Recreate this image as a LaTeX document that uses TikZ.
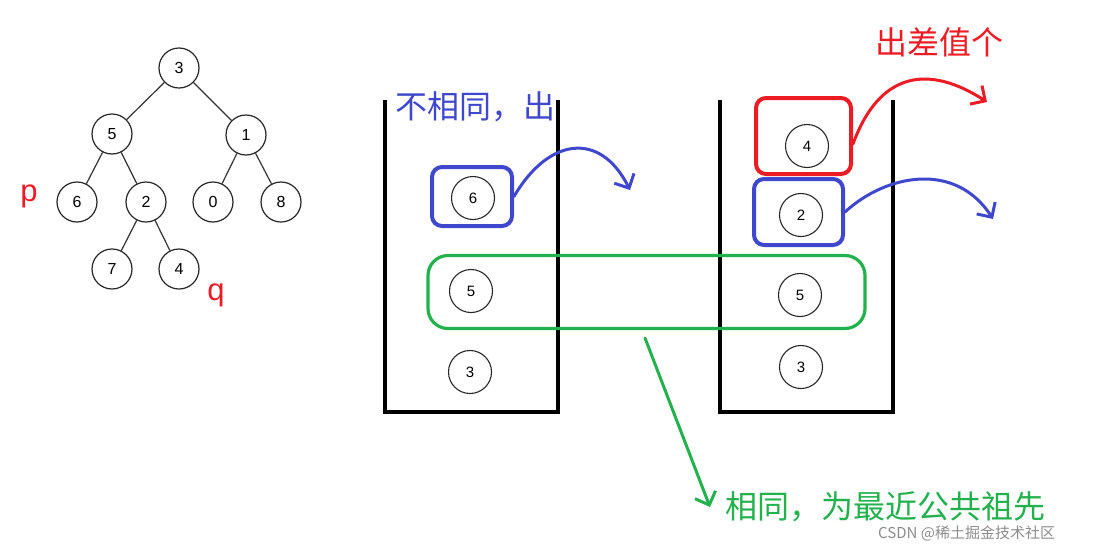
\documentclass[tikz,border=0pt]{standalone}
\usepackage{fontspec}
\setmainfont{Liberation Sans}
\newfontfamily\cjk{Noto Sans CJK SC}
\usetikzlibrary{arrows.meta}
\definecolor{pblue}{RGB}{63,72,204}
\definecolor{pred}{RGB}{237,28,36}
\definecolor{pgreen}{RGB}{34,177,76}
\tikzset{
  tnode/.style={circle,draw=black!85,line width=1.2pt,minimum size=40pt,inner sep=0pt,font=\fontsize{16}{16}\selectfont},
  snode/.style={circle,draw=black!85,line width=1.1pt,minimum size=43pt,inner sep=0pt,font=\fontsize{15}{15}\selectfont},
  tedge/.style={draw=black!80,line width=1.2pt},
  wall/.style={draw=black,line width=4pt,line join=miter},
  boxb/.style={draw=pblue,line width=4pt,rounded corners=10pt,inner sep=0pt},
  boxr/.style={draw=pred,line width=4pt,rounded corners=10pt,inner sep=0pt},
  boxg/.style={draw=pgreen,line width=3.2pt,rounded corners=20pt,inner sep=0pt},
  arr/.style={line width=3pt,line cap=round,-{Straight Barb[length=11pt,width=22pt,line width=3pt]}},
  lab/.style={inner sep=0pt,anchor=west},
}
\begin{document}
\begin{tikzpicture}[x=1pt,y=-1pt]
\useasboundingbox (0,0) rectangle (1103,544);
% tree
\node[tnode] (t3) at (179,68) {3};
\node[tnode] (t5) at (112,134) {5};
\node[tnode] (t1) at (246,135) {1};
\node[tnode] (t6) at (77,202) {6};
\node[tnode] (t2) at (146,202) {2};
\node[tnode] (t0) at (213,202) {0};
\node[tnode] (t8) at (281,202) {8};
\node[tnode] (t7) at (112,269) {7};
\node[tnode] (t4) at (179,269) {4};
\draw[tedge] (t3)--(t5) (t3)--(t1) (t5)--(t6) (t5)--(t2) (t1)--(t0) (t1)--(t8) (t2)--(t7) (t2)--(t4);
\node[text=pred,font=\fontsize{31}{31}\selectfont] (p) at (29,196) {p};
\node[text=pred,font=\fontsize{31}{31}\selectfont] (q) at (216,295) {q};
% stack 1
\draw[wall] (385,100) -- (385,412) -- (558,412) -- (558,100);
\node[lab,text=pblue,font=\cjk\fontsize{32}{32}\selectfont] (l1) at (395,107) {不相同，出};
\node[snode] (a6) at (473,198) {6};
\node[snode] (a5) at (471,291) {5};
\node[snode] (a3) at (470,372) {3};
\node[boxb,minimum width=80pt,minimum height=59pt] (ba) at (472,196.5) {};
% stack 2
\draw[wall] (720,100) -- (720,412) -- (893,412) -- (893,100);
\node[snode] (b4) at (807,146) {4};
\node[snode] (b2) at (801,215) {2};
\node[snode] (b5) at (800,295) {5};
\node[snode] (b3) at (801,367) {3};
\node[boxr,minimum width=95pt,minimum height=76pt] (br) at (803.5,136) {};
\node[boxb,minimum width=89pt,minimum height=66pt] (bb) at (798.5,212) {};
% green group
\node[boxg,minimum width=437pt,minimum height=73pt] (bg) at (646.5,292) {};
% labels
\node[lab,text=pred,font=\cjk\fontsize{32}{32}\selectfont] (l2) at (875,42) {出差值个};
\node[lab,text=pgreen,font=\cjk\fontsize{32}{32}\selectfont] (l3) at (725,507) {相同，为最近公共祖先};
\node[lab,text=black!45,font=\cjk\fontsize{15}{15}\selectfont] (wm) at (878,533) {CSDN @稀土掘金技术社区};
% arrows
\coordinate (e1) at (630,190);
\coordinate (e2) at (987,102);
\coordinate (e3) at (993,219);
\coordinate (e4) at (710,507);
\coordinate (s4) at (645,338);
\draw[arr,pblue] (ba.east) .. controls (548,138) and (600,130) .. (e1);
\draw[arr,pred] ([yshift=-8pt]br.east) .. controls (880,70) and (930,65) .. (e2);
\draw[arr,pblue] (bb.east) .. controls (885,175) and (955,160) .. (e3);
\draw[arr,pgreen] (s4) -- (e4);
\end{tikzpicture}
\end{document}
